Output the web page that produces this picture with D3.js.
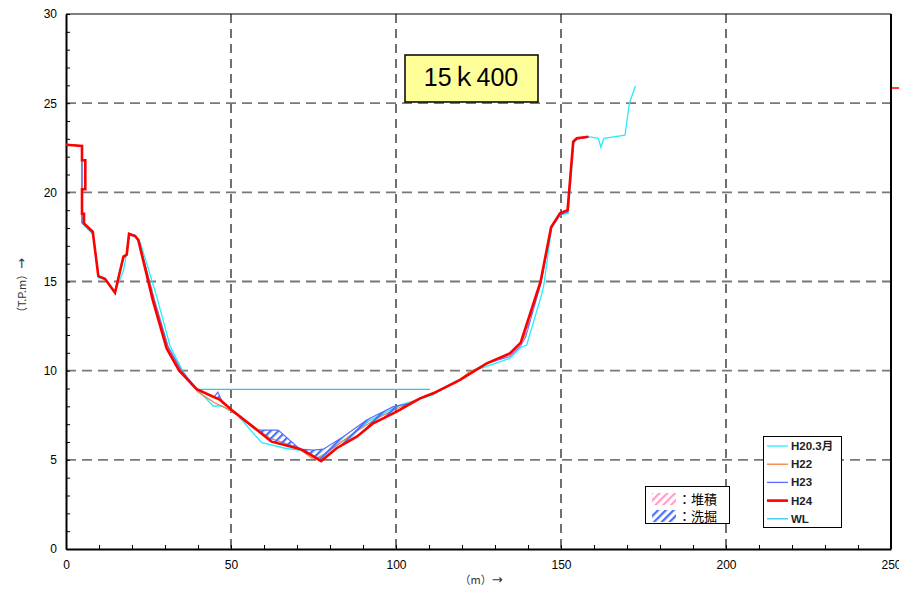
<!DOCTYPE html>
<html>
<head>
<meta charset="utf-8">
<script src="https://cdn.jsdelivr.net/npm/d3@7"></script>
<style>
  body { margin: 0; background: #fff; }
  text { font-family: "Liberation Sans", Arial, "Noto Sans CJK JP", sans-serif; }
</style>
</head>
<body>
<svg id="chart" width="899" height="591"></svg>
<script>
// cross section 15k400, [distance m, elevation T.P.m]
const h20 = [[0,22.67],[4.85,22.6],[4.85,18.3],[8.3,17.6],[9.9,15.2],[12,15.1],[14.6,14.4],[15.2,14.6],[17.4,15.6],[18.4,16.6],[19.1,17.67],[21,17.6],[22.5,17.2],[27.5,14.15],[31.5,11.4],[35,10.1],[38,9.2],[40,8.9],[44.6,8.02],[47.2,8.02],[52,7.5],[59.3,5.96],[66.4,5.65],[72,5.5],[76,5.1],[78,5.3],[85,6.2],[92,7.2],[101.2,8.07],[111.2,8.64],[124.4,10.04],[134.5,10.69],[137.6,11.27],[139.6,11.44],[144.1,14.25],[144.8,14.8],[147.2,18.07],[149.7,18.73],[152.2,18.82],[153.9,22.8],[155,23.0],[158.3,23.12],[161.3,23.03],[162.1,22.53],[163,23.03],[169.4,23.2],[170.7,25.0],[172.6,25.98]];
const h22 = [[0,22.67],[4.85,22.6],[4.85,18.3],[8.2,17.7],[9.8,15.3],[12,15.1],[14.8,14.4],[17.4,16.3],[18.4,16.5],[19.1,17.6],[21,17.55],[22.2,17.2],[26.8,14.0],[31,11.3],[35,10.0],[40,8.8],[45,8.2],[48,7.95],[52,7.5],[62,6.2],[70,5.7],[74.5,5.1],[77,5.15],[82,5.8],[88,6.6],[94,7.3],[100,7.85],[107,8.45],[111,8.75],[118,9.3],[122,9.9],[127.5,10.4],[134.5,10.9],[138,11.6],[139.3,12.1],[143.8,14.9],[147,18.0],[149.7,18.8],[152,19.0],[153.7,22.8],[154.8,23.0],[158.3,23.1]];
const h23 = [[0,22.67],[4.85,22.6],[4.85,18.3],[8.2,17.7],[9.8,15.3],[12,15.1],[14.8,14.4],[17.4,16.3],[18.4,16.5],[19.1,17.6],[21,17.55],[22.2,17.2],[26.5,14.1],[30.8,11.4],[34.6,10.1],[39.8,8.95],[44.8,8.5],[46,8.8],[47.5,8.2],[50.2,7.8],[56,7.0],[58,6.67],[64.3,6.67],[70.9,5.6],[74.9,5.55],[78,5.6],[84,6.3],[91.1,7.23],[99.2,7.98],[104.2,8.17],[108,8.5],[111.3,8.73],[119.4,9.5],[127.5,10.4],[134.5,10.8],[137.8,11.4],[139.3,11.9],[143.9,14.9],[147.1,18.0],[149.7,18.75],[152,18.9],[153.7,22.8],[154.8,23.0],[158.3,23.1]];
const h24 = [[0,22.67],[4.85,22.6],[4.85,21.8],[5.85,21.8],[5.85,20.17],[4.85,20.17],[4.85,18.8],[5.45,18.8],[5.45,18.26],[8.1,17.8],[9.8,15.3],[11.8,15.15],[14.85,14.37],[17.4,16.4],[18.4,16.5],[19.1,17.67],[20.9,17.55],[21.9,17.33],[26.3,13.96],[30.5,11.25],[34.3,10.0],[39.6,8.96],[46.7,8.36],[50.2,7.8],[62.3,6.02],[70.9,5.61],[73.4,5.37],[77.3,4.93],[82,5.65],[88.1,6.3],[93.1,7.05],[100.2,7.7],[107.3,8.45],[111.3,8.73],[119.4,9.48],[127.5,10.41],[134.5,10.97],[137.8,11.57],[143.8,14.99],[147,18.04],[149.7,18.82],[152,19.0],[153.7,22.84],[154.8,23.03],[158.3,23.12]];
const h24Stub = [[250.3,25.85],[253,25.85]];
const wl = [[39.6,8.95],[110.3,8.95]];

const xTicks = [0, 50, 100, 150, 200, 250];
const yTicks = [0, 5, 10, 15, 20, 25, 30];
const seriesNames = ["H20.3月", "H22", "H23", "H24", "WL"];
const seriesColors = ["#22eeff", "#f08040", "#5a6cff", "#ff0000", "#2cc4f0"];
const hatchNames = ["：堆積", "：洗掘"];

const svg = d3.select("#chart");
const x = d3.scaleLinear().domain([0, 250]).range([66, 891]);
const y = d3.scaleLinear().domain([0, 30]).range([549, 14]);

// hatch patterns
const defs = svg.append("defs");
function hatch(id, color) {
  const p = defs.append("pattern").attr("id", id).attr("patternUnits", "userSpaceOnUse")
    .attr("width", 5.5).attr("height", 5.5).attr("patternTransform", "rotate(45)");
  p.append("rect").attr("width", 2.2).attr("height", 5.5).attr("fill", color);
}
hatch("pink", "#ff9ccc");
hatch("blue", "#4470ff");
defs.append("clipPath").attr("id", "plot").append("rect")
  .attr("x", 66).attr("y", 14).attr("width", 825).attr("height", 535);

// grid
const grid = svg.append("g");
grid.selectAll(".vg").data([50, 100, 150, 200]).join("line")
  .attr("x1", d => x(d)).attr("x2", d => x(d)).attr("y1", 14).attr("y2", 549)
  .attr("stroke", "#111").attr("stroke-width", 1.2).attr("stroke-dasharray", "9,6");
grid.selectAll(".hg").data([5, 10, 15, 20, 25]).join("line")
  .attr("x1", 66).attr("x2", 891).attr("y1", d => y(d)).attr("y2", d => y(d))
  .attr("stroke", "#777").attr("stroke-width", 1.8).attr("stroke-dasharray", "10,6");

// axes
svg.append("g").attr("transform", "translate(66,0)")
  .call(d3.axisLeft(y).tickValues(d3.range(0, 31, 1)).tickSizeInner(-4).tickSizeOuter(0).tickPadding(9)
    .tickFormat(d => yTicks.includes(d) ? d : ""))
  .call(g => g.select(".domain").attr("stroke-width", 2))
  .call(g => g.selectAll("text").attr("font-size", 12).attr("fill", "#000"));
svg.append("g").attr("transform", "translate(0,549)")
  .call(d3.axisBottom(x).tickValues(d3.range(0, 251, 10)).tickSizeInner(-4).tickSizeOuter(0).tickPadding(11)
    .tickFormat(d => xTicks.includes(d) ? d : ""))
  .call(g => g.select(".domain").attr("stroke-width", 2))
  .call(g => g.selectAll("text").attr("font-size", 12).attr("fill", "#000"));
svg.append("line").attr("x1", 66).attr("x2", 891).attr("y1", 14).attr("y2", 14).attr("stroke", "#000").attr("stroke-width", 1.2);
svg.append("line").attr("x1", 891).attr("x2", 891).attr("y1", 14).attr("y2", 549).attr("stroke", "#000").attr("stroke-width", 2);

// axis titles
const yt = svg.append("text").attr("transform", "translate(26,288) rotate(-90)").attr("text-anchor", "middle")
  .attr("fill", "#333");
yt.append("tspan").attr("font-family", "Noto Sans CJK JP").attr("font-size", 11).text("（T.P.m）");
yt.append("tspan").attr("font-family", "DejaVu Sans").attr("font-size", 13).text("→");
const xt = svg.append("text").attr("x", 481).attr("y", 584).attr("text-anchor", "middle").attr("fill", "#333");
xt.append("tspan").attr("font-family", "Noto Sans CJK JP").attr("font-size", 11).text("（m）");
xt.append("tspan").attr("font-family", "DejaVu Sans").attr("font-size", 13).text("→");

const line = d3.line().x(d => x(d[0])).y(d => y(d[1]));
const plot = svg.append("g").attr("clip-path", "url(#plot)");

plot.append("path").attr("d", line(wl)).attr("fill", "none").attr("stroke", seriesColors[4]).attr("stroke-width", 1.2);
plot.append("path").attr("d", line(h20)).attr("fill", "none").attr("stroke", seriesColors[0]).attr("stroke-width", 1.3);
plot.append("path").attr("d", line(h22)).attr("fill", "none").attr("stroke", seriesColors[1]).attr("stroke-width", 1.2);
plot.append("path").attr("d", line(h23)).attr("fill", "none").attr("stroke", seriesColors[2]).attr("stroke-width", 1.2);

// hatched change areas between H23 and H24
function interp(s, xv) {
  for (let i = 0; i < s.length - 1; i++) {
    const a = s[i], b = s[i + 1];
    if (b[0] > a[0] && xv >= a[0] && xv <= b[0]) return a[1] + (b[1] - a[1]) * (xv - a[0]) / (b[0] - a[0]);
  }
  return null;
}
const samples = d3.range(36, 142, 0.2).map(v => ({ x: v, old: interp(h23, v), cur: interp(h24, v) }));
const scour = d3.area().defined(d => d.old - d.cur > 0.03).x(d => x(d.x)).y0(d => y(d.cur)).y1(d => y(d.old));
const depo = d3.area().defined(d => d.cur - d.old > 0.03).x(d => x(d.x)).y0(d => y(d.old)).y1(d => y(d.cur));
plot.append("path").attr("d", scour(samples)).attr("fill", "url(#blue)");
plot.append("path").attr("d", depo(samples)).attr("fill", "url(#pink)");

plot.append("path").attr("d", line(h24)).attr("fill", "none").attr("stroke", seriesColors[3]).attr("stroke-width", 2.6);
svg.append("path").attr("d", line(h24Stub)).attr("fill", "none").attr("stroke", seriesColors[3]).attr("stroke-width", 1.5);

// title box
svg.append("rect").attr("x", 405).attr("y", 55).attr("width", 133).attr("height", 47)
  .attr("fill", "#ffff99").attr("stroke", "#000").attr("stroke-width", 1.5);
svg.append("text").attr("x", 471).attr("y", 86).attr("text-anchor", "middle").attr("font-size", 25)
  .text("15ｋ400");

// series legend
const lg = svg.append("g");
lg.append("rect").attr("x", 763.5).attr("y", 436.5).attr("width", 78).attr("height", 91)
  .attr("fill", "#fff").attr("stroke", "#000").attr("stroke-width", 1);
seriesNames.forEach((n, i) => {
  const yy = 446 + i * 18.2;
  lg.append("line").attr("x1", 767).attr("x2", 788).attr("y1", yy).attr("y2", yy)
    .attr("stroke", seriesColors[i]).attr("stroke-width", i === 3 ? 2.6 : 1.3);
  lg.append("text").attr("x", 791).attr("y", yy + 4).attr("font-size", 11.5).attr("font-weight", "bold").attr("fill", "#222").text(n);
});

// hatch legend
const hg = svg.append("g");
hg.append("rect").attr("x", 645.5).attr("y", 486.5).attr("width", 84).attr("height", 37)
  .attr("fill", "#fff").attr("stroke", "#000").attr("stroke-width", 1);
["pink", "blue"].forEach((p, i) => {
  const yy = 493 + i * 17;
  hg.append("rect").attr("x", 652).attr("y", yy).attr("width", 24).attr("height", 12).attr("fill", `url(#${p})`);
  hg.append("text").attr("x", 678).attr("y", yy + 11).attr("font-size", 13)
    .attr("font-family", "Noto Sans CJK JP").text(hatchNames[i]);
});
</script>
</body>
</html>
